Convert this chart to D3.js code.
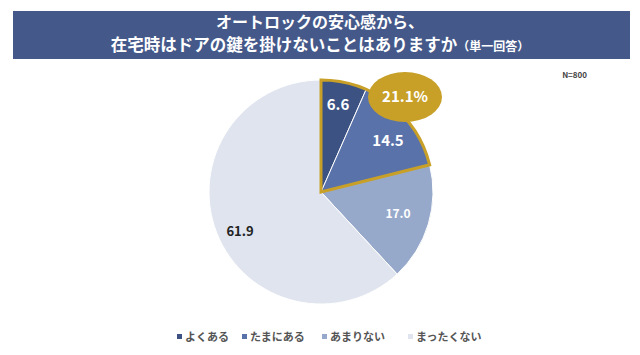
<!DOCTYPE html>
<html><head><meta charset="utf-8">
<script src="https://cdn.jsdelivr.net/npm/d3@7"></script>
<style>body{margin:0;background:#fff}svg{display:block}text{font-family:"Noto Sans CJK JP","Noto Sans",sans-serif}</style>
</head><body><svg id="c" width="640" height="355"></svg>
<script>
const categories = ["よくある","たまにある","あまりない","まったくない"];
const values = [6.6, 14.5, 17.0, 61.9];
const colors = ["#3b5283","#5a72aa","#97a9cb","#dfe4ee"];
const labelColors = ["#fff","#fff","#fff","#222"];
const highlightLabel = "21.1%";
const titleLines = ["オートロックの安心感から、","在宅時はドアの鍵を掛けないことはありますか"];
const titleSuffix = "（単一回答）";
const nLabel = "N=800";

const svg = d3.select("#c");
svg.append("rect").attr("x",13).attr("y",11).attr("width",617).attr("height",48).attr("fill","#44598a");
svg.append("text").attr("x",320).attr("y",28).attr("text-anchor","middle").attr("fill","#fff")
  .attr("font-size",16).attr("font-weight","bold").text(titleLines[0]);
const t2 = svg.append("text").attr("x",320).attr("y",51).attr("text-anchor","middle").attr("fill","#fff")
  .attr("font-size",16.5).attr("font-weight","bold");
t2.append("tspan").text(titleLines[1]);
t2.append("tspan").attr("font-size",12).text(titleSuffix);
svg.append("text").attr("x",587).attr("y",78).attr("text-anchor","end").attr("fill","#444")
  .attr("font-size",8).attr("font-weight","bold").text(nLabel);

const cx = 321, cy = 192, r = 112;
const g = svg.append("g").attr("transform",`translate(${cx},${cy})`);
const pie = d3.pie().sort(null).value(d=>d);
const arcs = pie(values);
const arc = d3.arc().innerRadius(0).outerRadius(r);
g.selectAll("path.s").data(arcs).join("path").attr("class","s")
  .attr("d",arc).attr("fill",(d,i)=>colors[i]).attr("stroke","#fff").attr("stroke-width",1);
// highlight outline around first two slices
g.append("path").attr("d",d3.arc().innerRadius(0).outerRadius(r)({startAngle:arcs[0].startAngle,endAngle:arcs[1].endAngle}))
  .attr("fill","none").attr("stroke","#c8a028").attr("stroke-width",3).attr("stroke-linejoin","miter");
const labelPos = [[17,-87],[67,-51],[77,22],[-81,39]];
g.selectAll("text.l").data(arcs).join("text").attr("class","l")
  .attr("x",(d,i)=>labelPos[i][0]).attr("y",(d,i)=>labelPos[i][1]).attr("dy","0.35em")
  .attr("text-anchor","middle").attr("fill",(d,i)=>labelColors[i])
  .attr("font-size",(d,i)=>i==2?12:(i==3?13:15)).attr("font-weight","bold").text(d=>d.data.toFixed(1));
// highlight ellipse
g.append("ellipse").attr("cx",84).attr("cy",-95).attr("rx",37).attr("ry",25).attr("fill","#c8a028");
g.append("text").attr("x",84).attr("y",-95).attr("dy","0.35em").attr("text-anchor","middle")
  .attr("fill","#fff").attr("font-size",15).attr("font-weight","bold").text(highlightLabel);

// legend
const legX = [177,242,322,408];
const lg = svg.append("g");
categories.forEach((c,i)=>{
  lg.append("rect").attr("x",legX[i]).attr("y",334).attr("width",5).attr("height",5).attr("fill",colors[i]);
  lg.append("text").attr("x",legX[i]+8).attr("y",337).attr("dy","0.35em").attr("fill","#555")
    .attr("font-size",11).attr("font-weight","bold").text(c);
});
</script></body></html>
